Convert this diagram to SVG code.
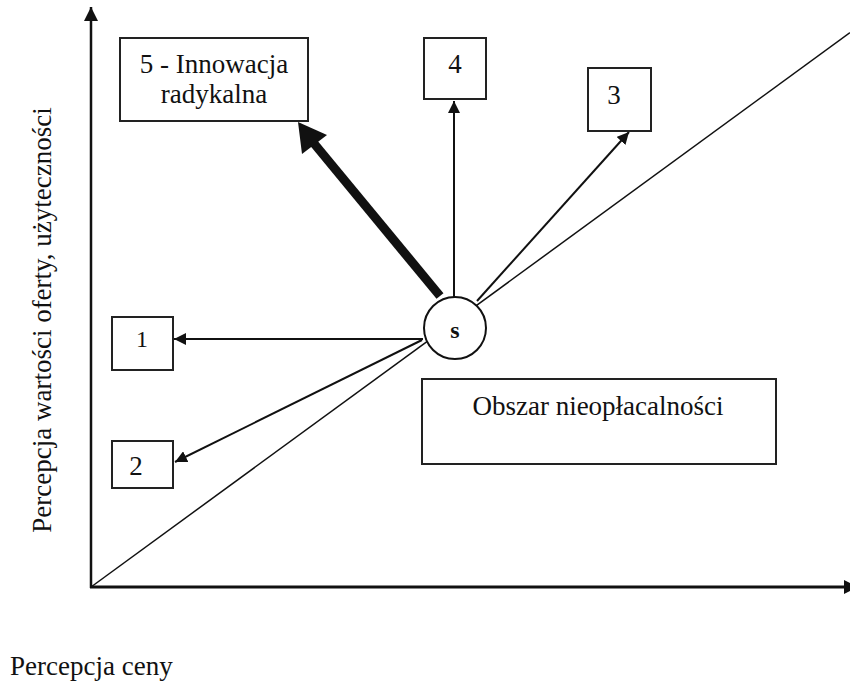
<svg xmlns="http://www.w3.org/2000/svg" width="850" height="681" viewBox="0 0 850 681">
<style>
text{font-family:"Liberation Serif","Times New Roman",serif;font-size:27px;fill:#111;}
.box{fill:#fff;stroke:#222;stroke-width:2;}
.ln{stroke:#111;fill:none;}
</style>
<defs>
<marker id="ah" viewBox="0 0 10 10" refX="10" refY="5" markerWidth="12" markerHeight="12" markerUnits="userSpaceOnUse" orient="auto"><path d="M0,0 L10,5 L0,10 z" fill="#111"/></marker>
<marker id="ahA" viewBox="0 0 10 10" refX="10" refY="5" markerWidth="16" markerHeight="14" markerUnits="userSpaceOnUse" orient="auto"><path d="M0,0 L10,5 L0,10 z" fill="#111"/></marker>
</defs>
<rect width="850" height="681" fill="#fff"/>
<g id="connectors">
<line class="ln" x1="91" y1="587" x2="850" y2="32.6" stroke-width="1.5"/>
<line class="ln" x1="91" y1="588" x2="91" y2="7" stroke-width="2.5" marker-end="url(#ahA)"/>
<line class="ln" x1="90" y1="587" x2="858" y2="587" stroke-width="3" marker-end="url(#ahA)"/>
<line class="ln" x1="423" y1="339" x2="174" y2="339" stroke-width="2" marker-end="url(#ah)"/>
<line class="ln" x1="422" y1="340" x2="175" y2="462" stroke-width="2" marker-end="url(#ah)"/>
<line class="ln" x1="477" y1="301" x2="629" y2="132" stroke-width="2" marker-end="url(#ah)"/>
<line class="ln" x1="454" y1="297" x2="454" y2="101" stroke-width="2" marker-end="url(#ah)"/>
<line class="ln" x1="440" y1="296" x2="312" y2="141" stroke-width="9"/>
<path d="M298,122 L327,135 L302,154 z" fill="#111"/>
</g>
<g id="node-s">
<circle cx="455" cy="328" r="31" fill="#fff" stroke="#111" stroke-width="2"/>
<text x="455" y="338" text-anchor="middle" font-weight="bold" style="font-size:24px">s</text>
</g>
<g id="node-5">
<rect class="box" x="120" y="38" width="188" height="83"/>
<text x="214" y="73" text-anchor="middle">5 - Innowacja</text>
<text x="214" y="103" text-anchor="middle">radykalna</text>
</g>
<g id="node-4">
<rect class="box" x="424" y="38" width="62" height="61"/>
<text x="455" y="73" text-anchor="middle">4</text>
</g>
<g id="node-3">
<rect class="box" x="588" y="68" width="63" height="63"/>
<text x="614" y="104" text-anchor="middle">3</text>
</g>
<g id="node-1">
<rect class="box" x="112" y="317" width="61" height="53"/>
<text x="142" y="347" text-anchor="middle" style="font-size:24px">1</text>
</g>
<g id="node-2">
<rect class="box" x="112" y="441" width="61" height="47"/>
<text x="136" y="475" text-anchor="middle">2</text>
</g>
<g id="node-obszar">
<rect class="box" x="422" y="379" width="354" height="85"/>
<text x="598" y="415" text-anchor="middle">Obszar nieopłacalności</text>
</g>
<g id="labels">
<text x="10" y="675">Percepcja ceny</text>
<text transform="translate(51,320) rotate(-90)" text-anchor="middle">Percepcja wartości oferty, użyteczności</text>
</g>
</svg>
